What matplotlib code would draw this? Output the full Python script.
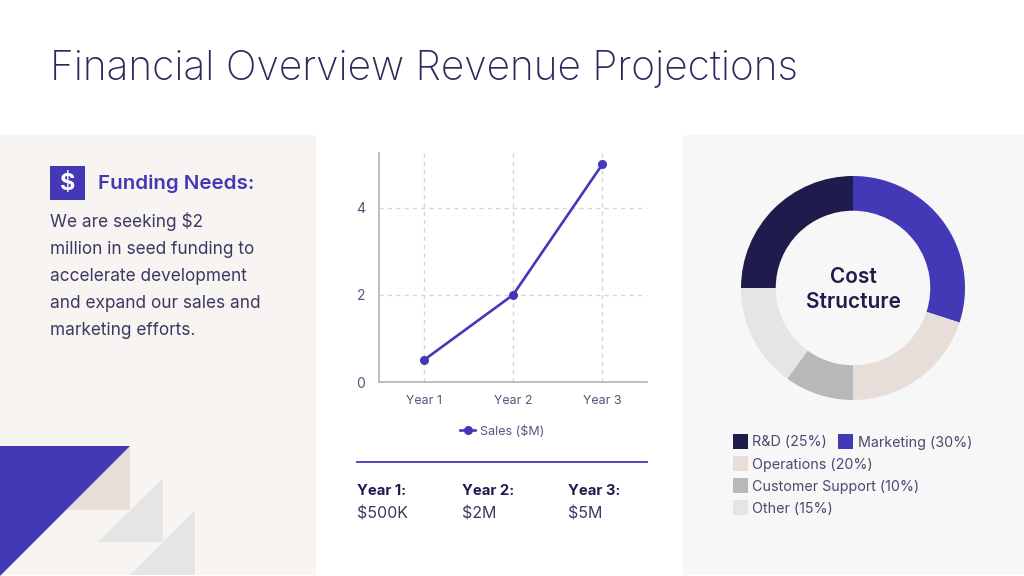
import matplotlib
matplotlib.use('Agg')
import matplotlib.pyplot as plt
from matplotlib.patches import Polygon, Rectangle

plt.rcParams['font.family'] = ['Inter', 'DejaVu Sans']

years = ['Year 1', 'Year 2', 'Year 3']
sales = [0.5, 2, 5]
y_ticks = [0, 2, 4]

cost_labels = ['Marketing', 'Operations', 'Customer Support', 'Other', 'R&D']
cost_values = [30, 20, 10, 15, 25]

summary_years = ['Year 1:', 'Year 2:', 'Year 3:']
summary_values = ['$500K', '$2M', '$5M']

funding_lines = ['We are seeking $2', 'million in seed funding to', 'accelerate development',
                 'and expand our sales and', 'marketing efforts.']

BLUE = '#4338B5'
NAVY = '#1F1C4D'
BEIGE = '#E8DED9'
MID = '#B8B8B8'
LIGHT = '#E5E5E5'
TEXT = '#3A3963'
TITLE = '#2B2A5C'
cost_colors = [BLUE, BEIGE, MID, LIGHT, NAVY]

W, H = 1024, 576
fig = plt.figure(figsize=(W / 100, H / 100), dpi=100)

# background layer in pixel coords
bg = fig.add_axes([0, 0, 1, 1])
bg.set_xlim(0, W)
bg.set_ylim(H, 0)
bg.axis('off')

bg.add_patch(Rectangle((0, 135), 316, 440, color='#F8F4F1', lw=0))
bg.add_patch(Rectangle((683, 135), 341, 440, color='#F7F7F7', lw=0))

bg.text(50, 80, 'Financial Overview Revenue Projections', fontsize=29.3, color=TITLE,
        fontweight='light', va='baseline')

# funding panel
bg.add_patch(Rectangle((50, 166), 35, 34, color=BLUE, lw=0))
bg.text(67.5, 190, '$', fontsize=17, color='white', fontweight='bold', ha='center', va='baseline')
bg.text(98, 189, 'Funding Needs:', fontsize=14.8, color=BLUE, fontweight='semibold', va='baseline')
for i, line in enumerate(funding_lines):
    bg.text(50, 227 + i * 27, line, fontsize=12.4, color=TEXT, va='baseline')

# corner triangles
bg.add_patch(Polygon([(130, 446), (130, 510), (66, 510)], color=BEIGE, lw=0))
bg.add_patch(Polygon([(163, 478), (163, 542), (98, 542)], color=LIGHT, lw=0))
bg.add_patch(Polygon([(195, 510), (195, 575), (130, 575)], color=LIGHT, lw=0))
bg.add_patch(Polygon([(0, 446), (130, 446), (0, 576)], color=BLUE, lw=0))

# line chart
ax = fig.add_axes([379 / W, 1 - 382 / H, 268 / W, 229 / H])
ax.patch.set_alpha(0)
ax.plot(range(len(years)), sales, color=BLUE, lw=1.9, marker='o', ms=5.5, clip_on=False)
ax.set_xlim(-0.5, 2.5)
ax.set_ylim(0, 5.26)
ax.set_xticks(range(len(years)))
ax.set_xticklabels(years)
ax.set_yticks(y_ticks)
ax.grid(color='#D6D6D6', ls=(0, (3, 3)), lw=1)
ax.set_axisbelow(True)
ax.tick_params(length=0, labelsize=9, labelcolor='#55557A', pad=9)
ax.tick_params(axis='y', labelsize=10, pad=10)
for s in ['top', 'right']:
    ax.spines[s].set_visible(False)
for s in ['left', 'bottom']:
    ax.spines[s].set_color('#B4B4B8')
    ax.spines[s].set_linewidth(1.2)

# line legend
bg.plot([460, 475], [430, 430], color=BLUE, lw=1.9)
bg.plot([467.5], [430], color=BLUE, marker='o', ms=5.5)
bg.text(480, 435, 'Sales ($M)', fontsize=9, color='#55557A', va='baseline')

# summary under the chart
bg.plot([357, 647], [461.5, 461.5], color=BLUE, lw=1.3)
for x, yr, val in zip([357, 462, 568], summary_years, summary_values):
    bg.text(x, 495, yr, fontsize=10.7, color=NAVY, fontweight='bold', va='baseline')
    bg.text(x, 518, val, fontsize=11.5, color=TEXT, va='baseline')

# donut
pie_ax = fig.add_axes([741 / W, 1 - 400 / H, 224 / W, 224 / H])
pie_ax.pie(cost_values, colors=cost_colors, startangle=90, counterclock=False, radius=1.0,
           wedgeprops={'width': 0.31, 'linewidth': 0})
pie_ax.set_xlim(-1, 1)
pie_ax.set_ylim(-1, 1)
bg.text(853, 283, 'Cost', fontsize=15, color=NAVY, fontweight='semibold', ha='center', va='baseline')
bg.text(853, 308, 'Structure', fontsize=15, color=NAVY, fontweight='semibold', ha='center', va='baseline')

# donut legend, R&D and Marketing share the first row
rows = [(733, 441, 4), (838, 441, 0), (733, 463.5, 1), (733, 485.5, 2), (733, 507.5, 3)]
for x, y, idx in rows:
    bg.add_patch(Rectangle((x, y - 7.5), 15, 15, color=cost_colors[idx], lw=0))
    bg.text(x + 19.5, y + 5.5, f'{cost_labels[idx]} ({cost_values[idx]}%)', fontsize=10.3,
            color='#4A4970', va='baseline')

fig.savefig('out.png', dpi=100, facecolor='white')
